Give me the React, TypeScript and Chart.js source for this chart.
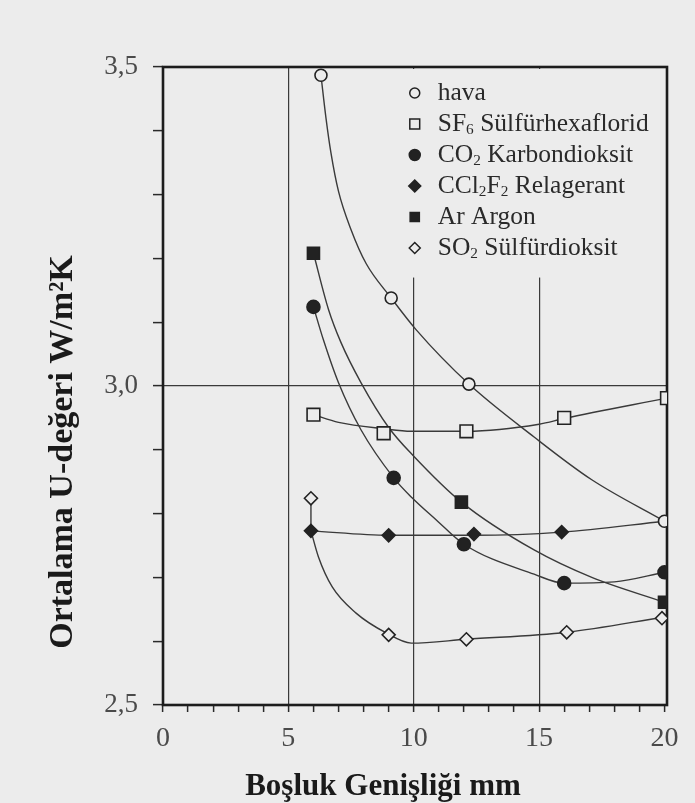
import React, { useEffect, useRef } from 'react';
import { Chart, registerables } from 'chart.js';

Chart.register(...registerables);

// ---------- data ----------
const X_MINOR = [0, 1, 2, 3, 4, 5, 6, 7, 8, 9, 10, 11, 12, 13, 14, 15, 16, 17, 18, 19, 20];
const X_LABELED = [0, 5, 10, 15, 20];
const X_LABELS = ['0', '5', '10', '15', '20'];
const X_GRID = [5, 10, 15];
const Y_MINOR = [2.5, 2.6, 2.7, 2.8, 2.9, 3.0, 3.1, 3.2, 3.3, 3.4, 3.5];
const Y_LABELED = [2.5, 3.0, 3.5];
const Y_LABELS = ['2,5', '3,0', '3,5'];
const Y_GRID = [3.0];

const X_TITLE = 'Boşluk Genişliği mm';
const Y_TITLE = 'Ortalama U-değeri W/m²K';

const SERIES_NAMES = [
  'hava',
  'SF₆ Sülfürhexaflorid',
  'CO₂ Karbondioksit',
  'CCl₂F₂ Relagerant',
  'Ar Argon',
  'SO₂ Sülfürdioksit',
];

// measured points
const HAVA_X = [6.3, 9.1, 12.2, 20.0];
const HAVA_Y = [3.487, 3.138, 3.003, 2.788];
const SF6_X = [6.0, 8.8, 12.1, 16.0, 20.1];
const SF6_Y = [2.955, 2.926, 2.929, 2.95, 2.981];
const CO2_X = [6.0, 9.2, 12.0, 16.0, 20.0];
const CO2_Y = [3.124, 2.856, 2.752, 2.691, 2.708];
const CCL_X = [5.9, 9.0, 12.4, 15.9];
const CCL_Y = [2.773, 2.766, 2.768, 2.771];
const AR_X = [6.0, 11.9, 20.0];
const AR_Y = [3.208, 2.818, 2.661];
const SO2_X = [5.9, 9.0, 12.1, 16.1, 19.9];
const SO2_Y = [2.824, 2.61, 2.603, 2.614, 2.636];

// fitted curves
const HAVA_FIT_X = [6.3, 6.5, 6.7, 7.0, 7.5, 8.1, 9.1, 10.1, 12.2, 14.8, 17.1, 20.0];
const HAVA_FIT_Y = [3.487, 3.42, 3.365, 3.305, 3.245, 3.192, 3.138, 3.088, 3.003, 2.92, 2.853, 2.788];
const SF6_FIT_X = [6.0, 7.0, 8.8, 9.9, 12.1, 15.0, 16.0, 20.1];
const SF6_FIT_Y = [2.955, 2.943, 2.933, 2.929, 2.929, 2.94, 2.949, 2.981];
const CO2_FIT_X = [6.0, 6.4, 7.0, 7.9, 9.2, 9.9, 10.9, 12.0, 14.8, 16.0, 18.0, 20.0];
const CO2_FIT_Y = [3.124, 3.072, 3.005, 2.931, 2.856, 2.826, 2.79, 2.752, 2.705, 2.691, 2.693, 2.708];
const CCL_FIT_X = [5.9, 9.0, 12.4, 15.9, 20.0];
const CCL_FIT_Y = [2.773, 2.766, 2.766, 2.771, 2.788];
const AR_FIT_X = [6.0, 6.6, 7.1, 7.9, 9.0, 10.0, 11.9, 14.8, 17.1, 20.0];
const AR_FIT_Y = [3.208, 3.12, 3.068, 3.005, 2.935, 2.89, 2.818, 2.743, 2.7, 2.661];
const SO2_LINK_X = [5.9, 5.9];
const SO2_LINK_Y = [2.824, 2.773];
const SO2_FIT_X = [5.9, 6.2, 6.75, 7.7, 8.9, 9.9, 12.1, 16.1, 20.0];
const SO2_FIT_Y = [2.773, 2.732, 2.685, 2.644, 2.613, 2.597, 2.603, 2.614, 2.638];

// ---------- styles ----------
const BG = '#ececec';
const INK = '#222222';
const LINE = '#3a3a3a';
const SERIF = "'Liberation Serif', 'Times New Roman', 'DejaVu Serif', serif";

type Pt = { x: number; y: number };
const zip = (xs: number[], ys: number[]): Pt[] => xs.map((x, i) => ({ x, y: ys[i] }));

const SERIES = [
  { name: SERIES_NAMES[0], xs: HAVA_X, ys: HAVA_Y, style: 'circle', filled: false, r: 6, lr: 5 },
  { name: SERIES_NAMES[1], xs: SF6_X, ys: SF6_Y, style: 'rect', filled: false, r: 9, lr: 7 },
  { name: SERIES_NAMES[2], xs: CO2_X, ys: CO2_Y, style: 'circle', filled: true, r: 6.5, lr: 5.5 },
  { name: SERIES_NAMES[3], xs: CCL_X, ys: CCL_Y, style: 'rectRot', filled: true, r: 6.5, lr: 6 },
  { name: SERIES_NAMES[4], xs: AR_X, ys: AR_Y, style: 'rect', filled: true, r: 8.5, lr: 6.5 },
  { name: SERIES_NAMES[5], xs: SO2_X, ys: SO2_Y, style: 'rectRot', filled: false, r: 6.5, lr: 5.5 },
];

const CURVES = [
  { xs: HAVA_FIT_X, ys: HAVA_FIT_Y },
  { xs: SF6_FIT_X, ys: SF6_FIT_Y },
  { xs: CO2_FIT_X, ys: CO2_FIT_Y },
  { xs: CCL_FIT_X, ys: CCL_FIT_Y },
  { xs: AR_FIT_X, ys: AR_FIT_Y },
  { xs: SO2_LINK_X, ys: SO2_LINK_Y },
  { xs: SO2_FIT_X, ys: SO2_FIT_Y },
];

function drawMarker(ctx: CanvasRenderingContext2D, style: string, filled: boolean, cx: number, cy: number, r: number) {
  ctx.beginPath();
  if (style === 'circle') {
    ctx.arc(cx, cy, r, 0, Math.PI * 2);
  } else if (style === 'rect') {
    const s = r * Math.SQRT1_2;
    ctx.rect(cx - s, cy - s, 2 * s, 2 * s);
  } else {
    ctx.moveTo(cx - r, cy);
    ctx.lineTo(cx, cy - r);
    ctx.lineTo(cx + r, cy);
    ctx.lineTo(cx, cy + r);
    ctx.closePath();
  }
  ctx.fillStyle = filled ? INK : BG;
  ctx.fill();
  ctx.lineWidth = 1.5;
  ctx.strokeStyle = INK;
  ctx.stroke();
}

const SUBS = '₀₁₂₃₄₅₆₇₈₉';
function drawRich(ctx: CanvasRenderingContext2D, text: string, x: number, y: number, size: number) {
  let cx = x;
  let run = '';
  let runSub = false;
  const flush = () => {
    if (!run) return;
    const fs = runSub ? size * 0.6 : size;
    ctx.font = `${fs}px ${SERIF}`;
    ctx.fillText(run, cx, runSub ? y + size * 0.25 : y);
    cx += ctx.measureText(run).width;
    run = '';
  };
  for (const ch of text) {
    const idx = SUBS.indexOf(ch);
    const isSub = idx >= 0;
    if (isSub !== runSub) {
      flush();
      runSub = isSub;
    }
    run += isSub ? String(idx) : ch;
  }
  flush();
}

const overlayPlugin = {
  id: 'overlay',
  beforeDatasetsDraw(chart: any) {
    const { ctx, chartArea: a, scales } = chart;
    const xs = scales.x;
    const ys = scales.y;
    ctx.save();
    // legend background hides the grid lines behind it
    const mx0 = xs.getPixelForValue(9.5);
    const my1 = ys.getPixelForValue(3.17);
    ctx.fillStyle = BG;
    ctx.fillRect(mx0, a.top + 2, a.right - 2 - mx0, my1 - a.top - 2);
    // frame
    ctx.lineWidth = 2.6;
    ctx.strokeStyle = '#1c1c1c';
    ctx.strokeRect(a.left, a.top, a.right - a.left, a.bottom - a.top);
    ctx.restore();
  },
  afterDatasetsDraw(chart: any) {
    const { ctx, chartArea: a, scales } = chart;
    const xs = scales.x;
    ctx.save();
    // legend
    const mx = xs.getPixelForValue(10) + 1;
    SERIES.forEach((s, i) => {
      const cy = a.top + 26 + i * 31;
      drawMarker(ctx, s.style, s.filled, mx, cy, s.lr);
      ctx.fillStyle = '#2a2a2a';
      ctx.textAlign = 'left';
      ctx.textBaseline = 'middle';
      drawRich(ctx, s.name, mx + 23, cy, 25.5);
    });
    // axis titles
    ctx.fillStyle = '#1a1a1a';
    ctx.font = `bold 31px ${SERIF}`;
    ctx.textAlign = 'center';
    ctx.textBaseline = 'alphabetic';
    ctx.fillText(X_TITLE, a.left + 220, a.bottom + 90);
    ctx.translate(a.left - 100, a.top + 385);
    ctx.rotate(-Math.PI / 2);
    ctx.font = `bold 34px ${SERIF}`;
    ctx.textBaseline = 'middle';
    ctx.fillText(Y_TITLE, 0, 0);
    ctx.restore();
  },
};

export default function App() {
  const ref = useRef<HTMLCanvasElement | null>(null);

  useEffect(() => {
    const canvas = ref.current;
    if (!canvas) return;

    const markerSets = SERIES.map((s) => ({
      type: 'scatter',
      label: s.name,
      data: zip(s.xs, s.ys),
      showLine: false,
      pointStyle: s.style,
      pointRadius: s.r,
      pointHoverRadius: s.r,
      pointBackgroundColor: s.filled ? INK : BG,
      pointBorderColor: INK,
      pointBorderWidth: 1.6,
      backgroundColor: s.filled ? INK : BG,
      borderColor: INK,
      order: 0,
    }));
    const curveSets = CURVES.map((c) => ({
      type: 'line',
      data: zip(c.xs, c.ys),
      borderColor: LINE,
      borderWidth: 1.4,
      pointRadius: 0,
      fill: false,
      cubicInterpolationMode: 'monotone',
      order: 1,
    }));

    const chart = new Chart(canvas, {
      type: 'scatter',
      data: { datasets: [...markerSets, ...curveSets] as any },
      options: {
        responsive: false,
        animation: false,
        devicePixelRatio: 1,
        events: [],
        layout: { padding: { top: 67, right: 28, left: 0, bottom: 0 } },
        plugins: { legend: { display: false }, tooltip: { enabled: false } },
        scales: {
          x: {
            type: 'linear',
            min: 0,
            max: 20.1,
            afterBuildTicks: (s: any) => {
              s.ticks = X_MINOR.map((v) => ({ value: v }));
            },
            afterFit: (s: any) => {
              s.height = 98;
            },
            border: { display: false },
            grid: {
              color: (c: any) => (X_GRID.includes(c.tick?.value) ? '#3a3a3a' : 'rgba(0,0,0,0)'),
              lineWidth: 1.2,
              tickColor: '#2a2a2a',
              tickLength: 7,
              tickWidth: 1.5,
            },
            ticks: {
              autoSkip: false,
              maxRotation: 0,
              padding: 10,
              color: '#4a4a4a',
              font: { family: SERIF, size: 28 },
              callback: (v: any) => {
                const i = X_LABELED.indexOf(v);
                return i >= 0 ? X_LABELS[i] : '';
              },
            },
          },
          y: {
            type: 'linear',
            min: 2.5,
            max: 3.5,
            afterBuildTicks: (s: any) => {
              s.ticks = Y_MINOR.map((v) => ({ value: v }));
            },
            afterFit: (s: any) => {
              s.width = 163;
            },
            border: { display: false },
            grid: {
              color: (c: any) => (Y_GRID.includes(c.tick?.value) ? '#3a3a3a' : 'rgba(0,0,0,0)'),
              lineWidth: 1.2,
              tickColor: '#2a2a2a',
              tickLength: 10,
              tickWidth: 1.5,
            },
            ticks: {
              autoSkip: false,
              padding: 15,
              color: '#4a4a4a',
              font: { family: SERIF, size: 27 },
              callback: (v: any) => {
                const i = Y_LABELED.indexOf(v);
                return i >= 0 ? Y_LABELS[i] : '';
              },
            },
          },
        },
      } as any,
      plugins: [overlayPlugin],
    });

    return () => chart.destroy();
  }, []);

  return (
    <div style={{ position: 'fixed', left: 0, top: 0, width: 695, height: 803, background: BG }}>
      <canvas ref={ref} width={695} height={803} style={{ display: 'block', width: 695, height: 803 }} />
    </div>
  );
}
